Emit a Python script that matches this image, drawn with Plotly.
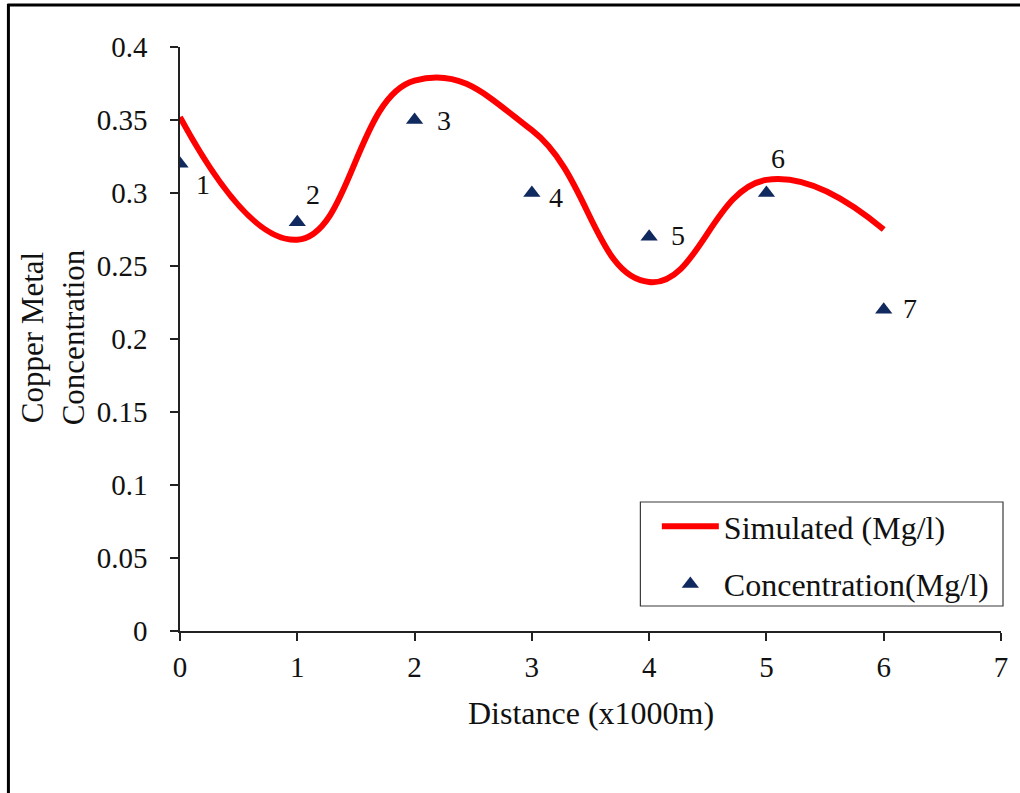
import plotly.graph_objects as go

# ---- data ----
distance = [0, 1, 2, 3, 4, 5, 6]
simulated = [0.352, 0.268, 0.377, 0.343, 0.239, 0.309, 0.275]
observed = [0.32, 0.28, 0.35, 0.30, 0.27, 0.30, 0.22]
point_labels = ["1", "2", "3", "4", "5", "6", "7"]
y_tickvals = [0, 0.05, 0.1, 0.15, 0.2, 0.25, 0.3, 0.35, 0.4]
y_ticktext = ["0", "0.05", "0.1", "0.15", "0.2", "0.25", "0.3", "0.35", "0.4"]
x_tickvals = [0, 1, 2, 3, 4, 5, 6, 7]
x_ticktext = ["0", "1", "2", "3", "4", "5", "6", "7"]

# label offsets in pixels (x right, y up)
label_dx = [23, 16, 29, 24, 29, 12, 26]
label_dy = [-21, 28, 0, -4, 1, 35, 1]

FONT = "Liberation Serif"
TXT = "#111111"
W, H = 1020, 793
L, R, T, B = 180, 17, 47, 162
pw, ph = W - L - R, H - T - B


def px_to_paper_x(px):
    return (px - L) / pw


def px_to_paper_y(py):
    return (H - B - py) / ph


fig = go.Figure()
fig.add_trace(go.Scatter(
    x=distance, y=simulated, mode="lines", name="Simulated (Mg/l)",
    line=dict(color="#ff0000", width=6, shape="spline", smoothing=1.3),
    legendgroup="a",
))
fig.add_trace(go.Scatter(
    x=distance, y=observed, mode="markers", name="Concentration(Mg/l)",
    marker=dict(symbol="triangle-up", size=15, color="#10295f"),
    legendgroup="b",
))

annotations = []
for xi, yi, lab, dx, dy in zip(distance, observed, point_labels, label_dx, label_dy):
    annotations.append(dict(
        x=xi, y=yi, xref="x", yref="y", text=lab, showarrow=False,
        xshift=dx, yshift=dy, font=dict(family=FONT, size=28, color=TXT),
        xanchor="center", yanchor="middle",
    ))

annotations.append(dict(
    x=px_to_paper_x(52), y=px_to_paper_y(337), xref="paper", yref="paper",
    text="Copper Metal<br>Concentration", textangle=-90, showarrow=False,
    font=dict(family=FONT, size=31, color=TXT),
    xanchor="center", yanchor="middle",
))
annotations.append(dict(
    x=0.5, y=px_to_paper_y(713), xref="paper", yref="paper",
    text="Distance (x1000m)", showarrow=False,
    font=dict(family=FONT, size=32, color=TXT),
    xanchor="center", yanchor="middle",
))

shapes = [
    dict(type="line", xref="paper", yref="paper",
         x0=px_to_paper_x(8), x1=px_to_paper_x(8),
         y0=px_to_paper_y(4), y1=px_to_paper_y(800),
         line=dict(color="black", width=3)),
    dict(type="line", xref="paper", yref="paper",
         x0=px_to_paper_x(7), x1=px_to_paper_x(1030),
         y0=px_to_paper_y(5), y1=px_to_paper_y(5),
         line=dict(color="black", width=3)),
    # legend frame
    dict(type="rect", xref="paper", yref="paper",
         x0=px_to_paper_x(641.5), x1=px_to_paper_x(1005),
         y0=px_to_paper_y(502), y1=px_to_paper_y(606),
         line=dict(color="#3a3a3a", width=1.2), fillcolor="white",
         layer="below"),
]

fig.update_layout(
    width=W, height=H,
    margin=dict(l=L, r=R, t=T, b=B),
    paper_bgcolor="white", plot_bgcolor="rgba(0,0,0,0)",
    font=dict(family=FONT, color=TXT),
    annotations=annotations,
    shapes=shapes,
    legend=dict(
        x=px_to_paper_x(658), y=px_to_paper_y(499),
        xanchor="left", yanchor="top",
        bgcolor="rgba(0,0,0,0)", borderwidth=0,
        font=dict(family=FONT, size=32, color=TXT),
        itemwidth=57, tracegroupgap=13, traceorder="grouped",
    ),
    xaxis=dict(
        range=[0, 7], tickvals=x_tickvals, ticktext=x_ticktext,
        ticks="outside", ticklen=8, tickwidth=1.5, tickcolor="#222",
        showline=True, linecolor="#222", linewidth=1.5,
        showgrid=False, zeroline=False,
        tickfont=dict(family=FONT, size=29, color=TXT),
        ticklabelstandoff=1,
    ),
    yaxis=dict(
        range=[0, 0.4], tickvals=y_tickvals, ticktext=y_ticktext,
        ticks="outside", ticklen=8, tickwidth=1.5, tickcolor="#222",
        showline=True, linecolor="#222", linewidth=1.5,
        showgrid=False, zeroline=False,
        tickfont=dict(family=FONT, size=29, color=TXT),
        ticklabelstandoff=17,
    ),
)

fig.write_html("out.html")
